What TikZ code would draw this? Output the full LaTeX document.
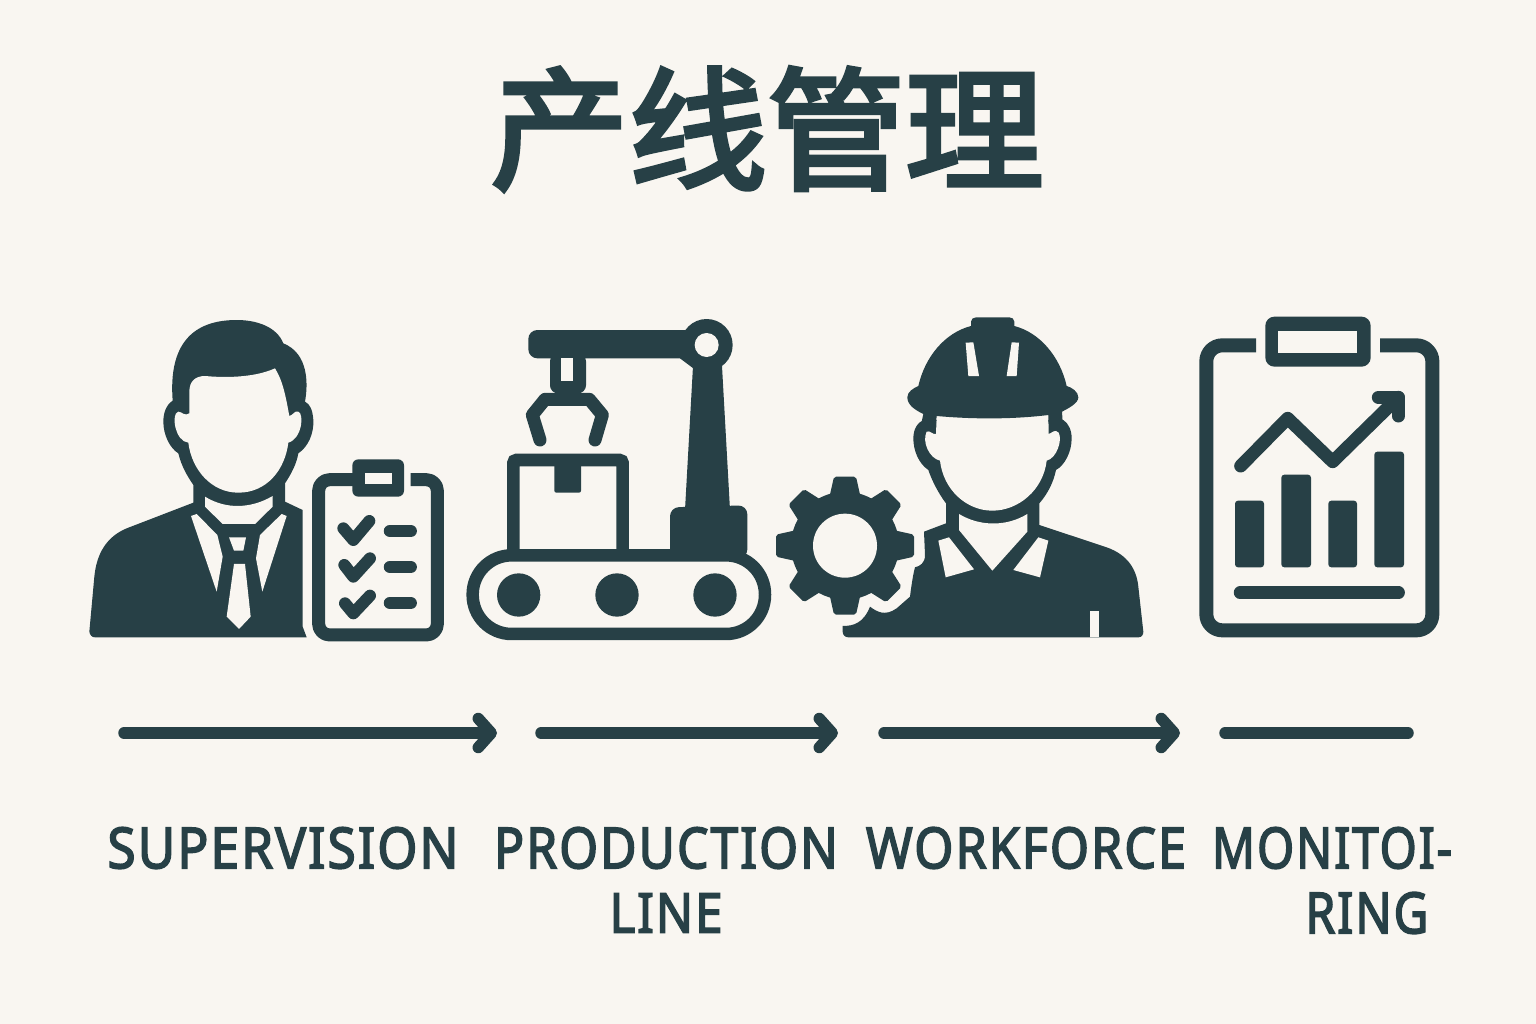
\documentclass[tikz,border=0pt]{standalone}
\usepackage{fontspec}
\usetikzlibrary{arrows.meta}
\setmainfont{Noto Sans}[FakeBold=3,LetterSpace=4]
\newfontfamily\cjkfont{Noto Sans CJK SC}[FakeBold=3.4]
\definecolor{ink}{HTML}{274046}
\definecolor{paper}{HTML}{F9F6F1}
\tikzset{
  dark/.style={fill=ink,draw=none},
  hole/.style={fill=paper,draw=none},
  stroke/.style={draw=ink,line width=#1,fill=none,line cap=round,line join=round},
  flat/.style={draw=ink,line width=#1,fill=none,line cap=butt,line join=round},
  flowline/.style={draw=ink,line width=11.5pt,line cap=round},
  flowarrow/.style={flowline,-{Straight Barb[round,length=13pt,width=29pt,line width=11.5pt]}},
  lab/.style={text=ink,inner sep=0pt,anchor=center},
  zoomed/.style={x=.33333pt,y=-.33333pt}
}
\begin{document}
\begin{tikzpicture}[x=1pt,y=-1pt]
\fill[paper] (0,0) rectangle (1536,1024);
\useasboundingbox (0,0) rectangle (1536,1024);

% title
\node[text=ink,inner sep=0pt,anchor=center] (title) at (767,129)
  {\resizebox{553pt}{112pt}{\cjkfont 产线管理}};

% supervisor
\begin{scope}[shift={(80,310)},zoomed]
\fill[dark] (28,965) .. controls (30,975) and (35,982) .. (45,982) -- (680,982) -- (668,950) -- (668,600) -- (615,575) -- (615,520)
  .. controls (635,490) and (650,460) .. (655,430) .. controls (685,410) and (702,370) .. (700,330)
  .. controls (698,300) and (690,282) .. (675,275) .. controls (685,220) and (685,130) .. (610,100)
  .. controls (590,50) and (530,30) .. (470,30) .. controls (340,30) and (265,100) .. (278,272)
  .. controls (258,285) and (250,310) .. (250,335) .. controls (250,375) and (270,415) .. (295,430)
  .. controls (305,470) and (320,495) .. (340,525) -- (340,578) -- (140,655)
  .. controls (80,680) and (50,730) .. (43,800) -- cycle;
\fill[hole] (328,310) -- (328,245) .. controls (328,215) and (345,198) .. (375,198)
  .. controls (450,205) and (530,200) .. (585,175) .. controls (610,215) and (618,265) .. (628,318)
  .. controls (640,315) and (645,300) .. (655,305) .. controls (672,310) and (668,385) .. (625,398)
  .. controls (615,480) and (560,548) .. (475,548) .. controls (395,548) and (335,480) .. (325,398)
  .. controls (285,395) and (272,310) .. (295,305) .. controls (305,305) and (315,320) .. (328,310) -- cycle;
\fill[hole] (375,560) .. controls (440,600) and (515,595) .. (578,558) -- (578,590) -- (525,642) -- (428,642) -- (375,590) -- cycle;
\fill[hole] (333,618) -- (350,612) -- (412,675) -- (428,740) -- (410,845) -- cycle;
\fill[hole] (620,618) -- (605,612) -- (540,675) -- (528,745) -- (547,845) -- cycle;
\fill[hole] (447,682) -- (498,682) -- (490,722) -- (462,722) -- cycle;
\fill[hole] (462,762) -- (495,762) -- (512,920) -- (477,957) -- (440,920) -- cycle;
% small clipboard
\draw[flat=13pt,rounded corners=11pt] (992,509) -- (1072,509) -- (1072,975) -- (716,975) -- (716,509) -- (825,509);
\fill[dark,rounded corners=6pt] (817,448) rectangle (972,560);
\fill[hole] (855,488) rectangle (935,522);
\draw[stroke=12pt] (790,655) -- (820,690) -- (868,633);
\draw[stroke=12pt] (793,765) -- (820,800) -- (870,745);
\draw[stroke=12pt] (795,880) -- (820,910) -- (870,857);
\draw[stroke=12.5pt] (930,663) -- (992,663);
\draw[stroke=12.5pt] (930,771) -- (992,771);
\draw[stroke=12.5pt] (930,879) -- (992,879);
\end{scope}

% production line
\begin{scope}[shift={(460,310)},zoomed]
\draw[flat=12.5pt,rounded corners=39pt] (38,736) rectangle (915,972);
\foreach \cx in {176,471,765} \fill[dark] (\cx,855) circle [radius=65];
\draw[flat=12.5pt,rounded corners=3pt,line join=miter] (160,736) -- (160,450) -- (488,450) -- (488,736);
\fill[dark,rounded corners=2pt] (283,455) -- (283,548) -- (363,548) -- (363,455) -- cycle;
\fill[dark,rounded corners=9pt] (630,745) -- (630,592) -- (862,586) -- (862,745) -- cycle;
\fill[dark] (675,600) -- (700,150) -- (785,150) -- (810,600) -- cycle;
\fill[dark,rounded corners=9pt] (205,60) -- (700,60) -- (700,145) -- (205,145) -- cycle;
\fill[dark] (660,145) -- (700,175) -- (720,100) -- (680,100) -- cycle;
\fill[dark] (740,105) circle [radius=78];
\fill[hole] (740,105) circle [radius=36];
\fill[dark,rounded corners=8pt] (270,130) -- (378,130) -- (378,250) -- (270,250) -- cycle;
\fill[hole] (304,145) rectangle (340,213);
\draw[stroke=13pt] (240,390) -- (217,315) -- (255,268) -- (388,268) -- (427,315) -- (405,390);
\end{scope}

% worker and gear
\begin{scope}[shift={(770,310)},zoomed]
\fill[dark] (218,948) .. controls (250,948) and (280,940) .. (300,890) .. controls (320,905) and (345,920) .. (380,895)
  -- (420,860) .. controls (425,820) and (430,790) .. (435,772) .. controls (450,768) and (465,760) .. (465,735) -- (462,665)
  -- (528,640) -- (528,580) .. controls (505,550) and (485,510) .. (475,480) .. controls (445,460) and (430,420) .. (430,385)
  .. controls (430,355) and (445,335) .. (462,330) -- (880,330) .. controls (895,340) and (905,360) .. (905,385)
  .. controls (905,425) and (885,465) .. (858,480) .. controls (850,520) and (830,555) .. (808,580) -- (808,645)
  -- (1010,712) .. controls (1075,735) and (1100,780) .. (1105,830) -- (1120,965)
  .. controls (1120,975) and (1115,982) .. (1105,982) -- (235,982) .. controls (225,982) and (218,975) .. (218,965) -- cycle;
\fill[hole] (500,318) .. controls (610,328) and (730,328) .. (835,315) -- (836,372) .. controls (845,370) and (855,355) .. (866,368)
  .. controls (878,390) and (860,445) .. (830,452) .. controls (820,540) and (745,602) .. (667,602)
  .. controls (590,602) and (520,540) .. (510,452) .. controls (478,445) and (455,395) .. (470,365)
  .. controls (480,360) and (488,375) .. (498,372) -- cycle;
\fill[dark] (603,48) -- (603,35) .. controls (603,27) and (610,22) .. (618,22) -- (718,22) .. controls (726,22) and (733,27) .. (733,35) -- (733,48)
  .. controls (810,68) and (870,140) .. (890,228) .. controls (905,232) and (925,245) .. (925,262)
  .. controls (925,280) and (895,295) .. (876,305) -- (878,335) -- (835,335) -- (835,315)
  .. controls (730,328) and (610,328) .. (500,318) -- (498,340) -- (455,335) -- (460,312)
  .. controls (435,300) and (412,285) .. (412,262) .. controls (412,245) and (430,235) .. (445,228)
  .. controls (465,140) and (525,68) .. (603,48) -- cycle;
\fill[hole] (587,98) -- (610,97) -- (627,198) -- (595,198) -- cycle;
\fill[hole] (725,97) -- (747,98) -- (740,198) -- (710,198) -- cycle;
\fill[hole] (567,612) .. controls (630,650) and (710,650) .. (772,612) -- (772,665) -- (667,782) -- (567,660) -- cycle;
\fill[hole] (505,692) -- (537,682) -- (612,778) -- (527,802) -- cycle;
\fill[hole] (805,682) -- (835,692) -- (810,802) -- (730,780) -- cycle;
\fill[hole] (960,982) -- (960,904) -- (988,904) -- (988,982) -- cycle;
% gear
\begin{scope}[shift={(225,707)}]
\fill[dark] (0,0) circle [radius=162];
\foreach \a in {0,45,...,315}
  \fill[dark,rotate=\a,rounded corners=2pt] (-48,-140) -- (-33,-207) -- (33,-207) -- (48,-140) -- cycle;
\fill[hole] (0,0) circle [radius=96];
\end{scope}
\end{scope}

% report clipboard
\begin{scope}[shift={(1190,310)},zoomed]
\draw[flat=14pt,rounded corners=16pt] (570,106) -- (727,106) -- (727,961) -- (49,961) -- (49,106) -- (198,106);
\fill[dark,rounded corners=9pt] (226,20) rectangle (542,170);
\fill[hole] (264,62) rectangle (500,130);
\draw[stroke=13pt] (152,468) -- (293,325) -- (428,455) -- (625,262);
\draw[stroke=13pt] (565,262) -- (625,262) -- (625,318);
\foreach \xa/\xb/\ya in {135/222/572,274/363/494,415/501/572,553/642/425}
  \fill[dark,rounded corners=3pt] (\xa,772) -- (\xa,\ya) -- (\xb,\ya) -- (\xb,772) -- cycle;
\draw[stroke=12.5pt] (150,848) -- (626,848);
\end{scope}

% flow
\coordinate (a1s) at (124,733); \coordinate (a1e) at (497,733);
\coordinate (a2s) at (541,733); \coordinate (a2e) at (838,733);
\coordinate (a3s) at (884,733); \coordinate (a3e) at (1180,733);
\coordinate (a4s) at (1225,733); \coordinate (a4e) at (1408,733);
\draw[flowarrow] (a1s) -- (a1e);
\draw[flowarrow] (a2s) -- (a2e);
\draw[flowarrow] (a3s) -- (a3e);
\draw[flowline] (a4s) -- (a4e);

% labels
\node[lab] (l1) at (283,848) {\resizebox{351pt}{41pt}{SUPERVISION}};
\node[lab] (l2) at (666,848) {\resizebox{344pt}{41pt}{PRODUCTION}};
\node[lab] (l2b) at (666,913) {\resizebox{113pt}{39pt}{LINE}};
\node[lab] (l3) at (1026,848) {\resizebox{320pt}{41pt}{WORKFORCE}};
\node[lab] (l4) at (1332,848) {\resizebox{240pt}{41pt}{MONITOI-}};
\node[lab] (l4b) at (1367,913) {\resizebox{123pt}{41pt}{RING}};
\end{tikzpicture}
\end{document}
